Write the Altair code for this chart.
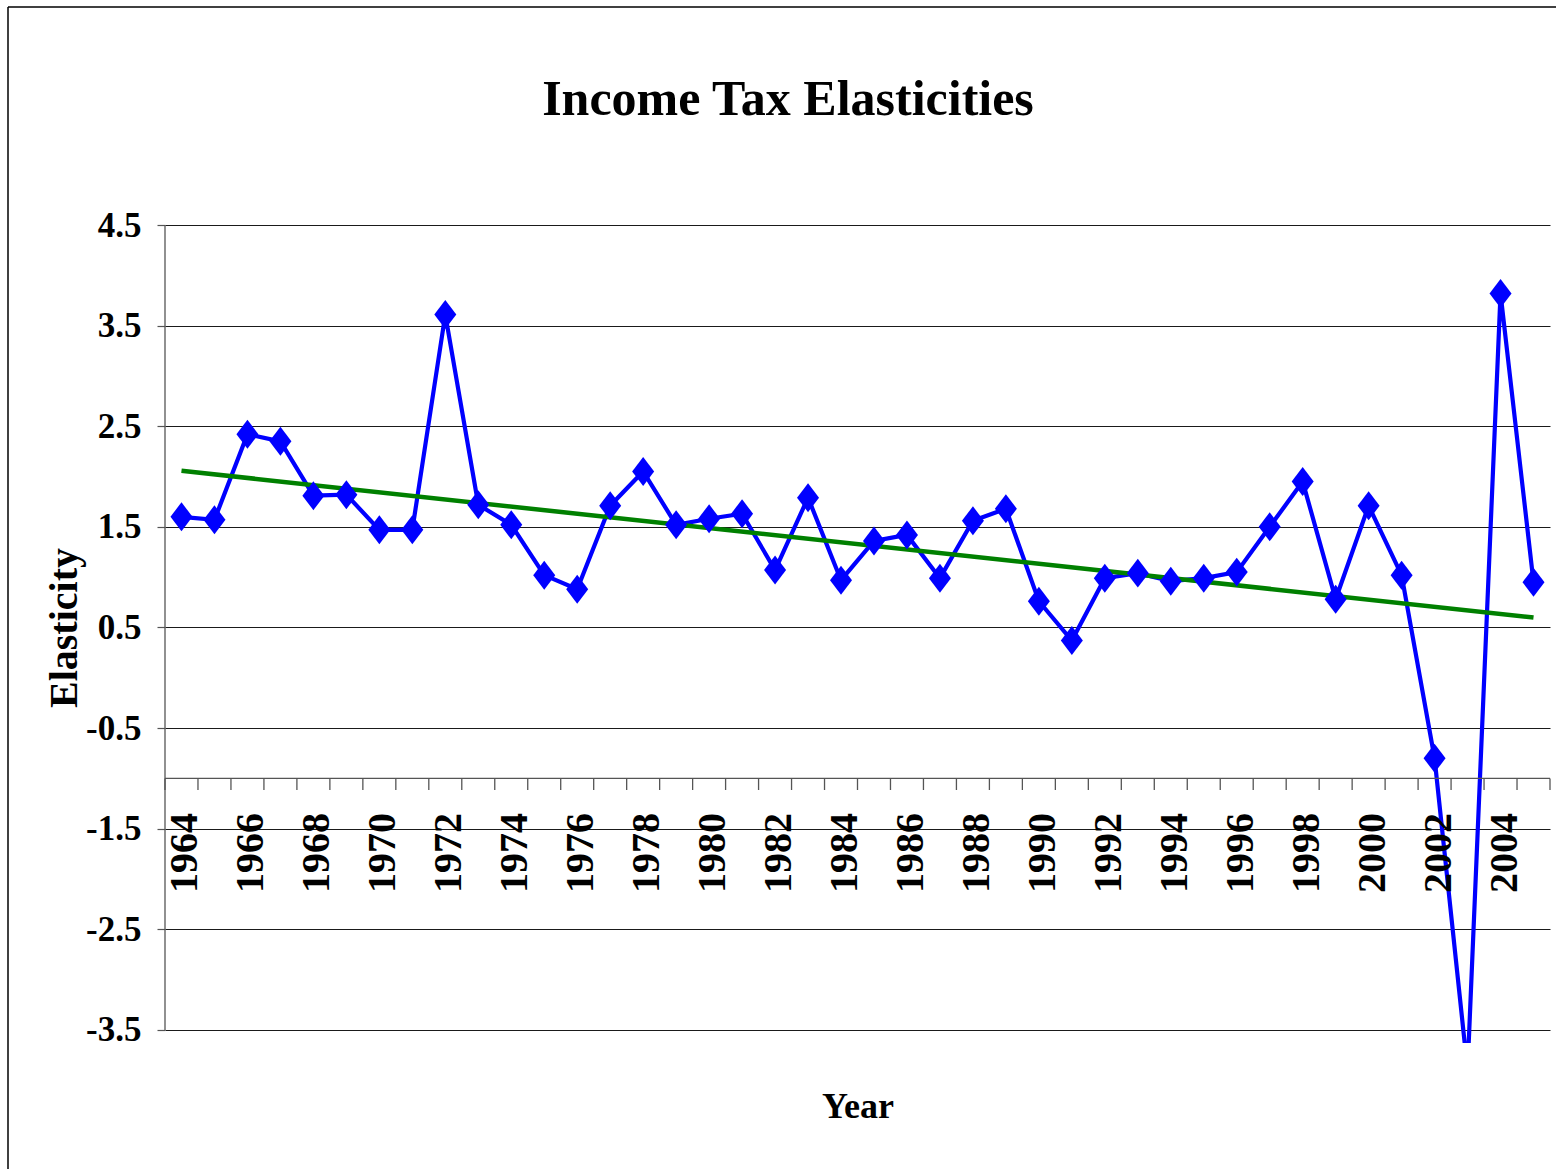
import altair as alt
import pandas as pd

# ---- data ----
years = list(range(1964, 2006))
elasticity = [1.60, 1.57, 2.42, 2.35, 1.81, 1.82, 1.47, 1.47, 3.61, 1.72,
              1.52, 1.02, 0.88, 1.71, 2.05, 1.52, 1.58, 1.63, 1.07, 1.79,
              0.97, 1.36, 1.42, 0.99, 1.56, 1.68, 0.76, 0.37, 0.99, 1.04,
              0.96, 0.99, 1.05, 1.50, 1.95, 0.78, 1.71, 1.02, -0.80, -3.90,
              3.82, 0.95]
y_ticks = [-3.5, -2.5, -1.5, -0.5, 0.5, 1.5, 2.5, 3.5, 4.5]
label_years = [str(y) for y in years[::2]]
category_cross = -1.0
title_text = "Income Tax Elasticities"
y_title = "Elasticity"
x_title = "Year"

FONT = "Liberation Serif"
W, H = 1385, 818

df = pd.DataFrame({"year": years, "elasticity": elasticity})
bounds = pd.DataFrame({"b": [y - 0.5 for y in years] + [years[-1] + 0.5]})
bounds["cross"] = category_cross
labels = pd.DataFrame({"year": [int(s) for s in label_years], "label": label_years})
one = pd.DataFrame({"lo": [y_ticks[0]], "hi": [y_ticks[-1]], "cross": [category_cross]})

x_scale = alt.Scale(domain=[years[0] - 0.5, years[-1] + 0.5], nice=False, zero=False)
y_scale = alt.Scale(domain=[-3.63, 4.5], nice=False, zero=False)

y_axis = alt.Axis(values=y_ticks, grid=True, gridColor="#1a1a1a", gridWidth=1.2,
                  domain=False, ticks=True, tickSize=8, tickColor="#555555", tickWidth=1.2,
                  labelFont=FONT, labelFontSize=35, labelFontWeight="bold",
                  labelColor="black", labelPadding=16, title=None,
                  labelExpr="(datum.value < 0 ? '-' : '') + format(abs(datum.value), '.1f')")


def Y(field):
    return alt.Y(field, scale=y_scale, axis=y_axis)


def X(field):
    return alt.X(field, scale=x_scale, axis=None)


DIAMOND = "M-0.76,0L0,-1L0.76,0L0,1Z"

line = alt.Chart(df).mark_line(color="#0000FF", strokeWidth=4.2, clip=True).encode(
    x=X("year:Q"), y=Y("elasticity:Q"),
)
points = alt.Chart(df).mark_point(shape=DIAMOND, size=840, filled=True, color="#0000FF",
                                  opacity=1, clip=True).encode(
    x=X("year:Q"), y=Y("elasticity:Q"),
)
trend = alt.Chart(df).transform_regression("year", "elasticity", method="linear").mark_line(
    color="#008000", strokeWidth=4.5).encode(
    x=X("year:Q"), y=Y("elasticity:Q"),
)

left_axis = alt.Chart(one).mark_rule(color="#555555", strokeWidth=1.3).encode(
    x=alt.value(0), y=Y("lo:Q"), y2="hi:Q",
)
cat_axis = alt.Chart(one).mark_rule(color="#555555", strokeWidth=1.3).encode(
    x=alt.value(0), x2=alt.value(W), y=Y("cross:Q"),
)
cat_ticks = alt.Chart(bounds).mark_rule(color="#555555", strokeWidth=1.3).encode(
    x=X("b:Q"), y=Y("cross:Q"), y2=alt.value(565),
)
year_labels = alt.Chart(labels).mark_text(
    angle=270, align="right", baseline="middle", font=FONT, fontSize=40,
    fontWeight="bold", color="black", dy=4).encode(
    x=X("year:Q"), y=alt.value(588), text="label:N",
)

title = alt.Chart(pd.DataFrame({"t": [title_text]})).mark_text(
    font=FONT, fontSize=50, fontWeight="bold", color="black",
    align="center", baseline="alphabetic").encode(
    x=alt.value(623), y=alt.value(-110), text="t:N")
ytitle = alt.Chart(pd.DataFrame({"t": [y_title]})).mark_text(
    font=FONT, fontSize=40, fontWeight="bold", color="black", angle=270,
    align="center", baseline="alphabetic").encode(
    x=alt.value(-88), y=alt.value(403), text="t:N")
xtitle = alt.Chart(pd.DataFrame({"t": [x_title]})).mark_text(
    font=FONT, fontSize=36, fontWeight="bold", color="black",
    align="center", baseline="alphabetic").encode(
    x=alt.value(693), y=alt.value(893), text="t:N")

border_left = alt.Chart(one).mark_rule(color="black", strokeWidth=1.5).encode(
    x=alt.value(-157), y=alt.value(-218), y2=alt.value(960))
border_top = alt.Chart(one).mark_rule(color="black", strokeWidth=1.5).encode(
    x=alt.value(-157), x2=alt.value(1400), y=alt.value(-218))

chart = alt.layer(
    line, left_axis, cat_axis, cat_ticks, year_labels, trend, points,
    title, ytitle, xtitle, border_left, border_top,
).properties(
    width=W, height=H,
    padding={"left": 165, "top": 225, "right": 6, "bottom": 126},
    autosize=alt.AutoSizeParams(type="none"),
    background="white",
).configure_view(strokeWidth=0)

chart.save("out.html", embed_options={"renderer": "svg", "actions": False})
